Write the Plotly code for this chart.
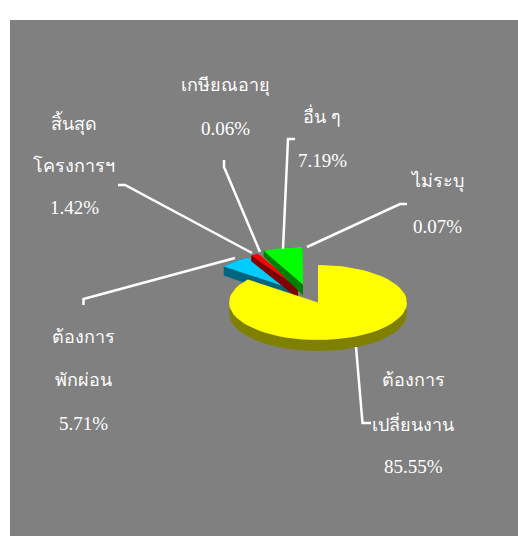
import math
import plotly.graph_objects as go

# --- data ---
categories = [["ต้องการ", "เปลี่ยนงาน"], ["ต้องการ", "พักผ่อน"], ["สิ้นสุด", "โครงการฯ"],
              ["เกษียณอายุ"], ["อื่น ๆ"], ["ไม่ระบุ"]]
values = [85.55, 5.71, 1.42, 0.06, 7.19, 0.07]
percent_labels = ["85.55%", "5.71%", "1.42%", "0.06%", "7.19%", "0.07%"]

# --- styles / layout ---
top_colors = ["#FFFF00", "#00CCFF", "#FF0000", "#808080", "#00FF00", "#808080"]
side_colors = ["#808000", "#006680", "#800000", "#808080", "#008000", "#808080"]
explode = [(0, 0), (-24, -13), (-20, -15), (-18, -16), (-15, -18), (-14, -18)]
outer_drop = [11, 9, 6, 6, 6, 6]
label_x = [413, 83, 74, 225, 322, 437]
label_y = [380, 337, 123, 85, 115, 181]
line_gap = [43, 43, 42, 43, 45, 45]
leaders = [
    [(356, 347), (362.5, 423), (371, 423)],
    [(83.5, 305), (83.5, 299), (235, 258)],
    [(118, 185), (125, 185), (252, 253)],
    [(224, 160), (224, 167), (260, 252)],
    [(295, 139), (288, 139), (283, 249)],
    [(407, 204), (400, 204), (307, 247)],
]
CX, CY, RX, RY, DEPTH = 318, 302.5, 89, 37.5, 11
GREY = "#808080"


def pt(theta, ox, oy, drop=0):
    return (CX + ox + RX * math.sin(theta), CY + oy - RY * math.cos(theta) + drop)


def arc(a, b, ox, oy, drop=0, n=60):
    return [pt(a + (b - a) * i / n, ox, oy, drop) for i in range(n + 1)]


def poly(points, color):
    xs = [p[0] for p in points] + [points[0][0]]
    ys = [p[1] for p in points] + [points[0][1]]
    return go.Scatter(x=xs, y=ys, mode="lines", fill="toself", fillcolor=color,
                      line=dict(width=0, color=color), hoverinfo="skip", showlegend=False)


# slice angles, clockwise from 12 o'clock
total = sum(values)
angles = []
start = 0.0
for v in values:
    end = start + v / total * 2 * math.pi
    angles.append((start, end))
    start = end

fig = go.Figure()
# thin slices first, exploded slices next, the large slice last (it hides their front walls)
for i in [3, 5, 1, 2, 4, 0]:
    a, b = angles[i]
    ox, oy = explode[i]
    apex = (CX + ox, CY + oy)
    apex_low = (CX + ox, CY + oy + DEPTH)
    drop = outer_drop[i]
    # cut wall on the start edge
    if i != 0:
        fig.add_trace(poly([apex, pt(a, ox, oy), pt(a, ox, oy, drop), apex_low], side_colors[i]))
    # outer wall
    fig.add_trace(poly(arc(a, b, ox, oy) + arc(a, b, ox, oy, drop)[::-1], side_colors[i]))
    fig.add_trace(poly([apex] + arc(a, b, ox, oy), top_colors[i]))

for pts in leaders:
    fig.add_trace(go.Scatter(x=[p[0] for p in pts], y=[p[1] for p in pts], mode="lines",
                             line=dict(color="white", width=2.5), hoverinfo="skip", showlegend=False))

for i, cat in enumerate(categories):
    for j, txt in enumerate(cat):
        fig.add_annotation(x=label_x[i], y=label_y[i] + j * line_gap[i], text=txt, showarrow=False,
                           xanchor="center", yanchor="middle",
                           font=dict(family="Liberation Serif, Noto Sans", size=18, color="white"))
    fig.add_annotation(x=label_x[i], y=label_y[i] + len(cat) * line_gap[i], text=percent_labels[i],
                       showarrow=False, xanchor="center", yanchor="middle",
                       font=dict(family="Liberation Serif", size=19, color="white"))

fig.update_layout(
    width=518, height=536, margin=dict(l=10, r=0, t=20, b=0), autosize=False,
    paper_bgcolor="white", plot_bgcolor=GREY, showlegend=False,
    xaxis=dict(range=[10, 518], visible=False, fixedrange=True),
    yaxis=dict(range=[536, 20], visible=False, fixedrange=True),
)
fig.write_html("out.html", config={"displayModeBar": False},
               post_script="document.body.style.margin='0';")
